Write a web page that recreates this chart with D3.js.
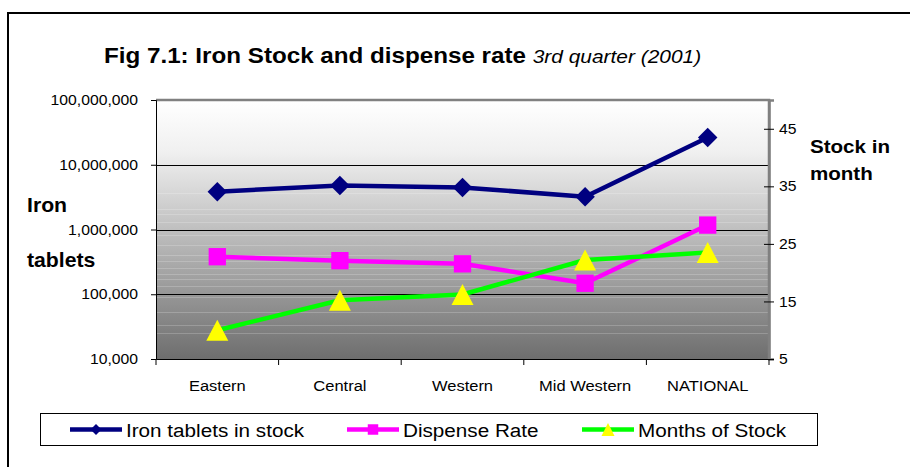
<!DOCTYPE html>
<html><head><meta charset="utf-8">
<script src="https://cdn.jsdelivr.net/npm/d3@7"></script>
<style>body{margin:0;background:#fff}svg{display:block;font-family:Arial,"Liberation Sans",sans-serif}</style>
</head><body><svg id="c" width="910" height="467"></svg>
<script>
const categories = ["Eastern","Central","Western","Mid Western","NATIONAL"];
const ironStock = [3840000, 4800000, 4470000, 3200000, 26400000];
const dispenseRate = [380000, 330000, 295000, 148000, 1170000];
const monthsStock = [10.0, 15.2, 16.2, 22.2, 23.5];
const leftTicks = [10000, 100000, 1000000, 10000000, 100000000];
const rightTicks = [5, 15, 25, 35, 45];
const seriesNames = ["Iron tablets in stock","Dispense Rate","Months of Stock"];

const SX = 1.1; // horizontal text stretch
const svg = d3.select("#c");
const L = 156, R = 769, T = 100, B = 359;

function stext(x, y, size, txt, opts={}) {
  const t = svg.append("text").attr("x", x/SX).attr("y", y).attr("transform", `scale(${SX},1)`)
    .attr("font-size", size).attr("fill","#000");
  if (opts.bold) t.attr("font-weight","bold");
  if (opts.anchor) t.attr("text-anchor", opts.anchor);
  if (txt !== null) t.text(txt);
  return t;
}

// outer frame
svg.append("path").attr("d","M8,467 V13 H910").attr("fill","none").attr("stroke","#000").attr("stroke-width",2);

// title
const title = stext(104, 63, 22, null);
title.append("tspan").attr("font-weight","bold").text("Fig 7.1: Iron Stock and dispense rate ");
title.append("tspan").attr("font-style","italic").attr("font-size",19).text("3rd quarter (2001)");

const x = d3.scaleBand().domain(categories).range([L,R]);
const yL = d3.scaleLog().domain([10000,100000000]).range([B,T]);
const yR = d3.scaleLinear().domain([5,50]).range([B,T]);

// background gradient
const defs = svg.append("defs");
const g = defs.append("linearGradient").attr("id","bg").attr("x1",0).attr("y1",0).attr("x2",0).attr("y2",1);
g.append("stop").attr("offset","0%").attr("stop-color","#ffffff");
g.append("stop").attr("offset","20%").attr("stop-color","#f0f0f0");
g.append("stop").attr("offset","100%").attr("stop-color","#6e6e6e");
svg.append("rect").attr("x",L).attr("y",T).attr("width",R-L).attr("height",B-T).attr("fill","url(#bg)");
// subtle streaks
const streaks = [0.36,0.42,0.44,0.47,0.52,0.56,0.6,0.62,0.65,0.67,0.69,0.72,0.76,0.82,0.87,0.9];
svg.append("g").selectAll("line").data(streaks).join("line")
  .attr("x1",L).attr("x2",R).attr("y1",d=>Math.round(T+(B-T)*d)+0.5).attr("y2",d=>Math.round(T+(B-T)*d)+0.5)
  .attr("stroke","#ffffff").attr("stroke-opacity",0.2).attr("stroke-width",1);

// gridlines
svg.append("g").selectAll("line").data(leftTicks.slice(1,4)).join("line")
  .attr("x1",L).attr("x2",R).attr("y1",d=>Math.round(yL(d))+0.5).attr("y2",d=>Math.round(yL(d))+0.5)
  .attr("stroke","#000").attr("stroke-width",1);

// plot border top/right
svg.append("path").attr("d",`M${L},${T} H${R} V${B}`).attr("fill","none").attr("stroke","#808080").attr("stroke-width",2.5);

// left axis
const axL = svg.append("g").attr("transform",`translate(${L},0)`)
  .call(d3.axisLeft(yL).tickValues(leftTicks).tickFormat(d3.format(",")).tickSize(5));
axL.select(".domain").attr("stroke","#000");
axL.selectAll("text").attr("font-size",14.3).attr("font-family","Arial,'Liberation Sans',sans-serif").attr("fill","#000")
  .attr("x",-18/SX).attr("transform",`scale(${SX},1)`);

// right axis
const axR = svg.append("g").attr("transform",`translate(${R},0)`)
  .call(d3.axisRight(yR).tickValues(rightTicks).tickSize(5));
axR.select(".domain").attr("stroke","#808080").attr("stroke-width",2.5);
axR.selectAll(".tick line").attr("x1",-5).attr("stroke","#000");
axR.selectAll("text").attr("font-size",14.3).attr("font-family","Arial,'Liberation Sans',sans-serif").attr("fill","#000")
  .attr("x",10/SX).attr("transform",`scale(${SX},1)`);

// bottom axis
const axB = svg.append("g").attr("transform",`translate(0,${B})`)
  .call(d3.axisBottom(x).tickSize(0));
axB.select(".domain").attr("stroke","#000");
axB.selectAll(".tick text").attr("font-size",15).attr("font-family","Arial,'Liberation Sans',sans-serif").attr("fill","#000")
  .attr("y",32).attr("dy",null).attr("transform",`scale(${SX},1)`);
// boundary ticks
svg.append("g").selectAll("line").data(categories.map(c=>x(c)).concat([R])).join("line")
  .attr("x1",d=>d).attr("x2",d=>d).attr("y1",B).attr("y2",B+6).attr("stroke","#000");

// axis titles
stext(27, 212, 19.3, "Iron", {bold:true});
stext(27, 267, 19.3, "tablets", {bold:true});
stext(810, 153, 18.7, "Stock in", {bold:true});
stext(810, 180, 18.7, "month", {bold:true});

const cx = c => x(c) + x.bandwidth()/2;
// triangle centred on its bounding box
function triPath(w, h) { return `M0,${-h/2}L${w/2},${h/2}L${-w/2},${h/2}Z`; }

function series(vals, yScale, color, markerFill, sym, rot) {
  const line = d3.line().x((d,i)=>cx(categories[i])).y(d=>yScale(d));
  svg.append("path").datum(vals).attr("d",line).attr("fill","none").attr("stroke",color).attr("stroke-width",4.5).attr("stroke-linejoin","round");
  svg.append("g").selectAll("path").data(vals).join("path")
    .attr("d",sym)
    .attr("transform",(d,i)=>`translate(${cx(categories[i])},${yScale(d)})${rot?` rotate(${rot})`:""}`)
    .attr("fill",markerFill);
}
series(ironStock, yL, "#000080", "#000080", d3.symbol().type(d3.symbolSquare).size(190), 45);
series(dispenseRate, yL, "#ff00ff", "#ff00ff", d3.symbol().type(d3.symbolSquare).size(300), 0);
series(monthsStock, yR, "#00ff00", "#ffff00", triPath(22, 21), 0);

// legend
const lg = svg.append("g");
lg.append("rect").attr("x",40.5).attr("y",413.5).attr("width",777).attr("height",32).attr("fill","#fff").attr("stroke","#000").attr("stroke-width",1);
const legendItems = [
  {name:seriesNames[0], color:"#000080", fill:"#000080", x0:70, sym:d3.symbol().type(d3.symbolSquare).size(60)(), rot:45},
  {name:seriesNames[1], color:"#ff00ff", fill:"#ff00ff", x0:347, sym:d3.symbol().type(d3.symbolSquare).size(110)(), rot:0},
  {name:seriesNames[2], color:"#00ff00", fill:"#ffff00", x0:582, sym:triPath(13,13), rot:0}
];
legendItems.forEach(it=>{
  lg.append("line").attr("x1",it.x0).attr("x2",it.x0+52).attr("y1",429.5).attr("y2",429.5).attr("stroke",it.color).attr("stroke-width",4.5);
  lg.append("path").attr("d",it.sym).attr("transform",`translate(${it.x0+26},429.5) rotate(${it.rot})`).attr("fill",it.fill);
  const t = lg.append("text").attr("x",(it.x0+56)/SX).attr("y",437).attr("transform",`scale(${SX},1)`)
    .attr("font-size",18.8).attr("fill","#000").text(it.name);
});
</script></body></html>
